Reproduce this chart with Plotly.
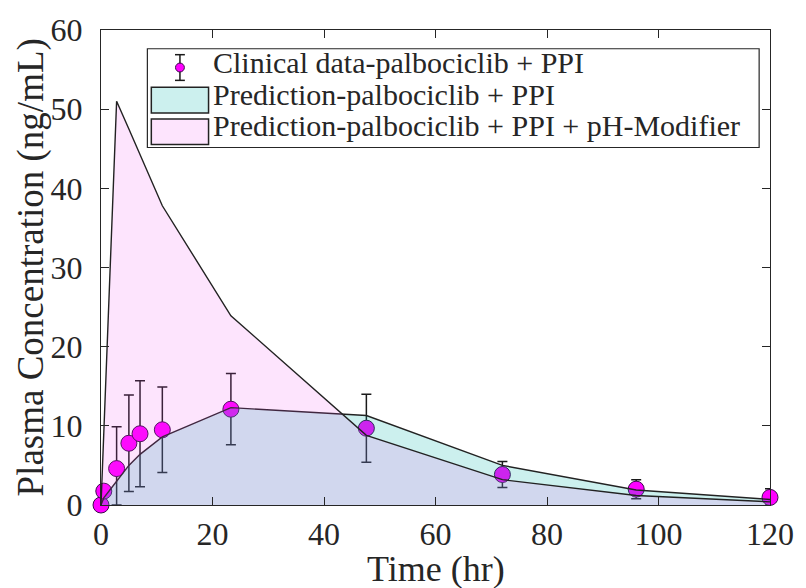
import plotly.graph_objects as go

# Sampling times (hr) shared by the clinical data and the model predictions
time_hr = [0, 0.5, 2.8, 5, 7, 11, 23.3, 47.6, 72, 96, 120]

# Clinical data: palbociclib + PPI (mean with error)
obs_conc = [0, 1.75, 4.6, 7.8, 9.0, 9.5, 12.1, 9.7, 3.85, 2.0, 0.96]
obs_err_plus = [0, 0.3, 5.3, 6.1, 6.7, 5.4, 4.5, 4.3, 1.65, 1.2, 1.1]
obs_err_minus = [0, 0.3, 4.6, 6.1, 6.7, 5.4, 4.5, 4.3, 1.65, 1.2, 0.96]

# Model predictions
pred_ppi = [0, 0.9, 3.0, 5.0, 6.4, 8.6, 12.3, 11.3, 5.0, 1.9, 0.7]
pred_ph_mod = [0, 9.1, 51.0, 47.5, 44.2, 37.8, 23.9, 8.8, 3.2, 1.2, 0.4]

x_ticks = [0, 20, 40, 60, 80, 100, 120]
y_ticks = [0, 10, 20, 30, 40, 50, 60]

legend_labels = [
    "Clinical data-palbociclib + PPI",
    "Prediction-palbociclib + PPI",
    "Prediction-palbociclib + PPI + pH-Modifier",
]

FONT = "Liberation Serif"
INK = "#262626"
CYAN_FILL = "rgba(0,180,170,0.2)"
PINK_FILL = "rgba(242,75,242,0.15)"

W, H = 806, 588
L, R, T, B = 101, 27, 24, 83
PW, PH = W - L - R, H - T - B


def px(x):
    return (x - L) / PW


def py(y):
    return (H - B - y) / PH


fig = go.Figure()

fig.add_trace(go.Scatter(
    x=time_hr, y=obs_conc, mode="markers", name=legend_labels[0],
    marker=dict(size=16, color="#ff00ff", line=dict(color="#3a0a4a", width=1)),
    error_y=dict(type="data", symmetric=False, array=obs_err_plus,
                 arrayminus=obs_err_minus, color="#1a1a1a", thickness=1.5, width=5),
    cliponaxis=False, showlegend=False,
))

fig.add_trace(go.Scatter(
    x=time_hr, y=pred_ppi, mode="lines", fill="tozeroy", fillcolor=CYAN_FILL,
    line=dict(color="#222222", width=1.4), name=legend_labels[1], showlegend=False,
))

fig.add_trace(go.Scatter(
    x=time_hr, y=pred_ph_mod, mode="lines", fill="tozeroy", fillcolor=PINK_FILL,
    line=dict(color="#222222", width=1.4), name=legend_labels[2], showlegend=False,
))

axis_common = dict(
    showline=True, linecolor=INK, linewidth=1.3, mirror="ticks",
    ticks="inside", ticklen=8, tickwidth=1, tickcolor=INK,
    showgrid=False, zeroline=False,
    tickfont=dict(family=FONT, size=32, color=INK),
)

fig.update_xaxes(range=[0, 120], tickvals=x_ticks, ticklabelstandoff=0, **axis_common)
fig.update_yaxes(range=[0, 60], tickvals=y_ticks, ticklabelstandoff=11, **axis_common)

# Legend box drawn as shapes + annotations
shapes = [
    dict(type="rect", xref="paper", yref="paper",
         x0=px(148), x1=px(768), y0=py(143), y1=py(43),
         line=dict(color=INK, width=1.2), fillcolor="white", layer="above"),
    dict(type="rect", xref="paper", yref="paper",
         x0=px(152), x1=px(210), y0=py(108), y1=py(82),
         line=dict(color="#222222", width=1.5), fillcolor=CYAN_FILL, layer="above"),
    dict(type="rect", xref="paper", yref="paper",
         x0=px(152), x1=px(210), y0=py(140), y1=py(114),
         line=dict(color="#222222", width=1.5), fillcolor=PINK_FILL, layer="above"),
    # error-bar glyph for the clinical entry
    dict(type="line", xref="paper", yref="paper",
         x0=px(181), x1=px(181), y0=py(75), y1=py(49),
         line=dict(color="#1a1a1a", width=1.5), layer="above"),
    dict(type="line", xref="paper", yref="paper",
         x0=px(176), x1=px(186), y0=py(49), y1=py(49),
         line=dict(color="#1a1a1a", width=1.5), layer="above"),
    dict(type="line", xref="paper", yref="paper",
         x0=px(176), x1=px(186), y0=py(75), y1=py(75),
         line=dict(color="#1a1a1a", width=1.5), layer="above"),
    dict(type="circle", xref="paper", yref="paper",
         x0=px(176.5), x1=px(185.5), y0=py(66.5), y1=py(57.5),
         line=dict(color="#3a0a4a", width=1), fillcolor="#ff00ff", layer="above"),
]

annotations = []
for label, yrow in zip(legend_labels, [57, 89, 121]):
    annotations.append(dict(
        text=label, xref="paper", yref="paper", x=px(212), y=py(yrow),
        xanchor="left", yanchor="middle", showarrow=False,
        font=dict(family=FONT, size=30, color=INK),
    ))

annotations.append(dict(
    text="Time (hr)", xref="paper", yref="paper", x=0.5, y=py(569.5),
    xanchor="center", yanchor="middle", showarrow=False,
    font=dict(family=FONT, size=36, color=INK),
))
annotations.append(dict(
    text="Plasma Concentration (ng/mL)", xref="paper", yref="paper",
    x=px(30), y=0.5, xanchor="center", yanchor="middle", textangle=-90,
    showarrow=False, font=dict(family=FONT, size=37, color=INK),
))

fig.update_layout(
    width=W, height=H, autosize=False,
    margin=dict(l=L, r=R, t=T, b=B, pad=0),
    paper_bgcolor="white", plot_bgcolor="white",
    shapes=shapes, annotations=annotations, showlegend=False,
)

fig.write_html("out.html")
